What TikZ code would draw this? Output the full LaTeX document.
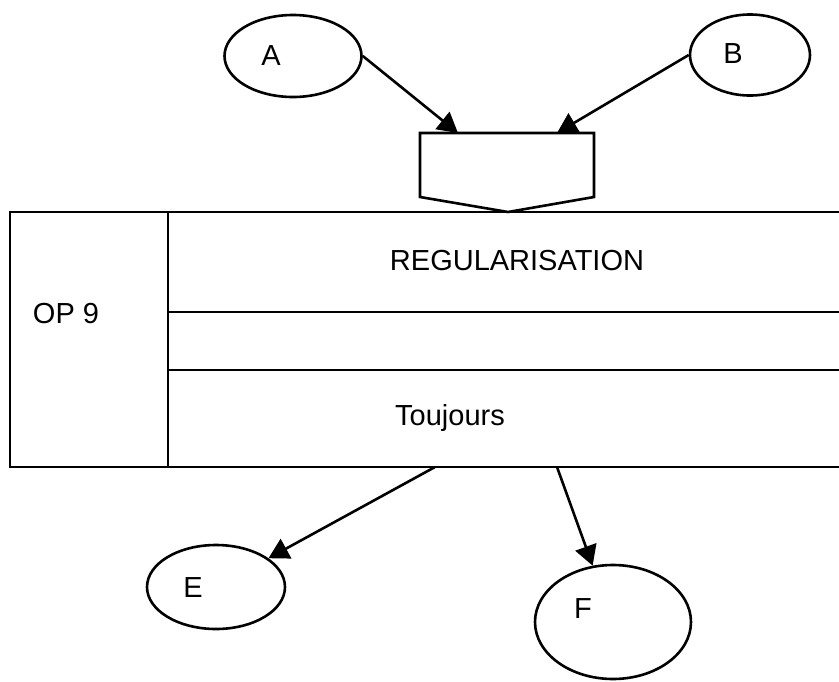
\documentclass[tikz,border=0pt]{standalone}
\usepackage{fontspec}
\setmainfont{Liberation Sans}
\usetikzlibrary{shapes.geometric,arrows.meta}
\begin{document}
\begin{tikzpicture}[x=1pt,y=-1pt, line width=2.6pt,
  oval/.style={draw, ellipse, inner sep=0pt},
  lbl/.style={font=\fontsize{29}{34}\selectfont, inner sep=0pt, anchor=base},
  arr/.style={-{Triangle[length=20pt,width=22pt]}}]
\useasboundingbox (0,0) rectangle (839,681);
% ellipses
\node[oval, minimum width=137pt, minimum height=82pt] (A) at (293,56) {};
\node[lbl] (tA) at (271,65) {A};
\node[oval, minimum width=120pt, minimum height=81pt] (B) at (750,55) {};
\node[lbl] (tB) at (733,63) {B};
\node[oval, minimum width=138pt, minimum height=84pt] (E) at (216,587) {};
\node[lbl] (tE) at (193,597) {E};
\node[oval, minimum width=156pt, minimum height=114pt] (F) at (613,622) {};
\node[lbl] (tF) at (583,618) {F};
% pentagon connector
\draw[line join=miter] (420,133) -- (594,133) -- (594,197) -- (508,212) -- (420,197) -- cycle;
\coordinate (inA) at (458,133);
\coordinate (inB) at (557,133);
% main box
\draw (845,212) -- (10,212) -- (10,467) -- (845,467);
\draw (168,212) -- (168,467);
\draw (168,312) -- (845,312);
\draw (168,370) -- (845,370);
\coordinate (outE) at (435,467);
\coordinate (outF) at (557,467);
% texts
\node[lbl] (op) at (66,323) {OP 9};
\node[lbl] (reg) at (517,270) {REGULARISATION};
\node[lbl] (tj) at (450,425) {Toujours};
% arrows
\draw[arr] (A.east) -- (inA);
\draw[arr] (B.west) -- (inB);
\draw[arr] (outE) -- (E);
\draw[arr] (outF) -- (F);
\end{tikzpicture}
\end{document}
